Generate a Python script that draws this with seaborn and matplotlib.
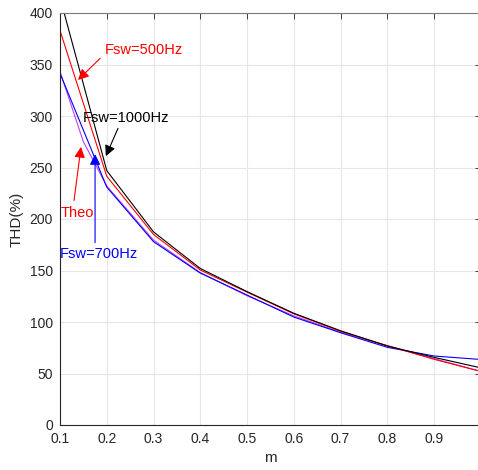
import matplotlib
matplotlib.use("Agg")
import matplotlib.pyplot as plt
import numpy as np
import pandas as pd
import seaborn as sns

# Modulation index samples and measured THD (%) per switching frequency
m_meas = [0.1, 0.2, 0.3, 0.4, 0.5, 0.6, 0.7, 0.8, 0.9, 1.0]
thd_1000 = [415, 247, 187.5, 152, 129.5, 108.5, 91.5, 76.7, 65.7, 55.5]
thd_500 = [383, 241.5, 185, 150.5, 129, 108, 91, 77, 63.8, 52]
thd_700 = [341.5, 231, 178, 147.5, 126.2, 104.8, 89.6, 75.4, 67, 63.6]

# Theoretical curve
m_theo = [0.1, 0.15, 0.2, 0.3, 0.4, 0.5, 0.6, 0.7, 0.8, 0.9, 1.0]
thd_theo = [343, 275, 232, 179.5, 148, 125.5, 106, 90, 77, 64.5, 52]

series_names = ["Fsw=1000Hz", "Fsw=500Hz", "Fsw=700Hz", "Theo"]
series_colors = ["#000000", "#ff0000", "#0000ff", "#c040f0"]

x_ticks = [0.1, 0.2, 0.3, 0.4, 0.5, 0.6, 0.7, 0.8, 0.9]
x_tick_labels = ["0.1", "0.2", "0.3", "0.4", "0.5", "0.6", "0.7", "0.8", "0.9"]
y_ticks = [0, 50, 100, 150, 200, 250, 300, 350, 400]

frames = []
for name, xs, ys in [
    ("Fsw=1000Hz", m_meas, thd_1000),
    ("Fsw=500Hz", m_meas, thd_500),
    ("Fsw=700Hz", m_meas, thd_700),
    ("Theo", m_theo, thd_theo),
]:
    frames.append(pd.DataFrame({"m": xs, "THD": ys, "series": name}))
df = pd.concat(frames, ignore_index=True)

sns.set_theme(style="white")
plt.rcParams["font.family"] = ["Liberation Sans", "DejaVu Sans"]

fig = plt.figure(figsize=(4.78, 4.70), dpi=100)
ax = fig.add_axes([60 / 478, 1 - 425 / 470, 420.8 / 478, 412 / 470])

sns.lineplot(
    data=df, x="m", y="THD", hue="series", hue_order=series_names[::-1],
    palette=dict(zip(series_names, series_colors)), linewidth=0.8,
    legend=False, ax=ax, sort=False, estimator=None,
)

ax.set_xlim(0.1, 1.0)
ax.set_ylim(0, 400)
ax.set_xticks(x_ticks)
ax.set_xticklabels(x_tick_labels)
ax.set_yticks(y_ticks)
ax.grid(True, color="#e6e6e6", linewidth=0.8)
ax.set_axisbelow(True)

for side in ["left", "bottom", "top", "right"]:
    ax.spines[side].set_visible(True)
    ax.spines[side].set_color("#262626")
    ax.spines[side].set_linewidth(0.8)
ax.spines["top"].set_color("#7a7a7a")
ax.tick_params(direction="in", length=4, width=0.6, top=True, right=True,
               labelsize=10, colors="#262626", pad=5)

ax.set_xlabel("m", fontsize=11, color="#262626", labelpad=4)
ax.set_ylabel("THD(%)", fontsize=11, color="#262626", labelpad=4)


def note(text, color, text_xy, tail, head):
    """Label text plus a separate arrow from tail to head (data coordinates)."""
    ax.text(text_xy[0], text_xy[1], text, fontsize=10.5, color=color,
            ha="left", va="center")
    ax.annotate("", xy=head, xytext=tail,
                arrowprops=dict(arrowstyle="-|>", color=color, lw=0.8,
                                mutation_scale=16, shrinkA=0, shrinkB=0))


note("Fsw=500Hz", "#ff0000", (0.196, 364), (0.186, 356), (0.1385, 335))
note("Fsw=1000Hz", "#000000", (0.149, 298), (0.224, 288), (0.198, 261))
note("Theo", "#ff0000", (0.102, 206), (0.130, 218), (0.145, 270))
note("Fsw=700Hz", "#0000ff", (0.100, 166), (0.175, 177), (0.175, 263))

fig.savefig("out.png", dpi=100)
